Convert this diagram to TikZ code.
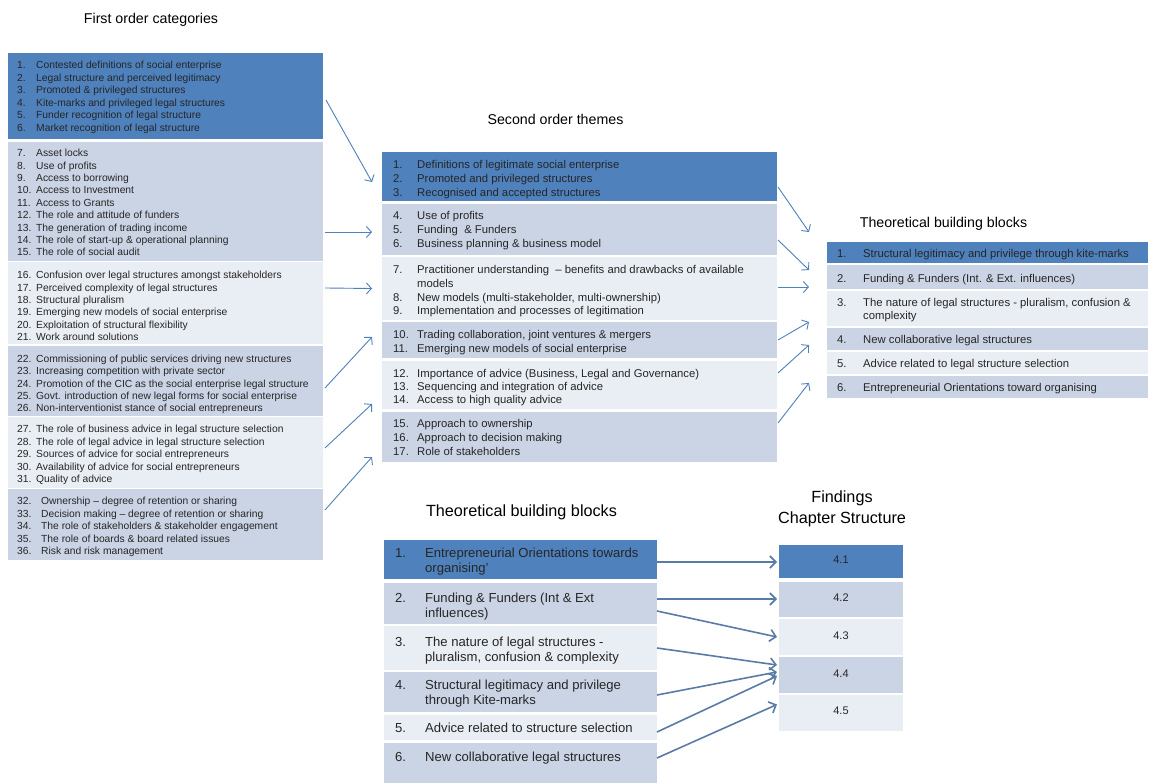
\documentclass[tikz,border=0pt]{standalone}
\usepackage{fontspec}
\setmainfont{Liberation Sans}
\usetikzlibrary{arrows.meta,calc}

\definecolor{dkblue}{HTML}{4F81BD}
\definecolor{midblue}{HTML}{CBD4E5}
\definecolor{ltblue}{HTML}{E9EDF4}
\definecolor{framegray}{HTML}{CFCFCF}
\definecolor{txt}{HTML}{262626}
\definecolor{arrowblue}{HTML}{4F81BD}
\definecolor{arrowsteel}{HTML}{5A7BA8}

\tikzset{
  band/.style={anchor=north west,inner sep=0pt,outer sep=0pt,draw=none},
  groupframe/.style={draw=framegray,line width=0.5pt},
  lbl/.style={inner sep=0pt,anchor=mid west,text=txt,yshift=-2pt},
  ttl/.style={inner sep=0pt,anchor=mid,text=black,yshift=-2.5pt},
  fsmall/.style={font=\fontsize{10.3pt}{12pt}\selectfont},
  fmid/.style={font=\fontsize{11.3pt}{13pt}\selectfont},
  flarge/.style={font=\fontsize{13.1pt}{15pt}\selectfont},
  fchap/.style={font=\fontsize{11pt}{13pt}\selectfont},
  fhead/.style={font=\fontsize{14.2pt}{17pt}\selectfont},
  fbighead/.style={font=\fontsize{16.2pt}{19pt}\selectfont},
  thinarrow/.style={draw=arrowblue,line width=0.9pt,-{Straight Barb[length=5pt,width=11pt]}},
  thickarrow/.style={draw=arrowsteel,line width=1.6pt,-{Straight Barb[length=6pt,width=12pt]}},
}

% filled band: name, colour, x1, y1, x2, y2
\newcommand\bandbox[6]{%
  \node[band,fill=#2,minimum width={(#5-#3)*1pt},minimum height={(#6-#4)*1pt}] (#1) at (#3,#4) {};}

% numbered lines: prefix, style, number x, text x, first y, line step, list
\newcommand\itemlist[7]{%
  \foreach \n/\t [count=\i from 0] in {#7}{%
    \node[lbl,#2] (#1n\i) at (#3,{#5+\i*#6}) {\n};
    \node[lbl,#2] (#1t\i) at (#4,{#5+\i*#6}) {\t};
  }}

\begin{document}
\begin{tikzpicture}[x=1pt,y=-1pt]
\useasboundingbox[fill=white] (0,0) rectangle (1152,783);

% ---------- headings ----------
\node[ttl,fhead] (h1) at (151,18) {First order categories};
\node[ttl,fhead] (h2) at (555.5,119) {Second order themes};
\node[ttl,fhead] (h3) at (943.5,222) {Theoretical building blocks};
\node[ttl,fbighead] (h4) at (521.5,511) {Theoretical building blocks};
\node[ttl,fbighead] (h5) at (842,497) {Findings};
\node[ttl,fbighead] (h6) at (842,518) {Chapter Structure};

% ---------- first order categories ----------
\node[groupframe,band,minimum width=315pt,minimum height=507pt] (fframe) at (8,53) {};
\bandbox{f1}{dkblue}{8}{53}{323}{139}
\bandbox{f2}{midblue}{8}{142}{323}{261}
\bandbox{f3}{ltblue}{8}{262}{323}{344}
\bandbox{f4}{midblue}{8}{346}{323}{416}
\bandbox{f5}{ltblue}{8}{417}{323}{488}
\bandbox{f6}{midblue}{8}{489}{323}{560}

\itemlist{fa}{fsmall}{17}{36}{64}{12.5}{1./Contested definitions of social enterprise,
  2./Legal structure and perceived legitimacy,
  3./Promoted \& privileged structures,
  4./Kite-marks and privileged legal structures,
  5./Funder recognition of legal structure,
  6./Market recognition of legal structure}
\itemlist{fb}{fsmall}{17}{36}{152}{12.4}{7./Asset locks,
  8./Use of profits,
  9./Access to borrowing,
  10./Access to Investment,
  11./Access to Grants,
  12./The role and attitude of funders,
  13./The generation of trading income,
  14./The role of start-up \& operational planning,
  15./The role of social audit}
\itemlist{fc}{fsmall}{17}{36}{274}{12.4}{16./Confusion over legal structures amongst stakeholders,
  17./Perceived complexity of legal structures,
  18./Structural pluralism,
  19./Emerging new models of social enterprise,
  20./Exploitation of structural flexibility,
  21./Work around solutions}
\itemlist{fd}{fsmall}{17}{36}{358}{12.3}{22./Commissioning of public services driving new structures,
  23./Increasing competition with private sector,
  24./Promotion of the CIC as the social enterprise legal structure,
  25./Govt. introduction of new legal forms for social enterprise,
  26./Non-interventionist stance of social entrepreneurs}
\itemlist{fe}{fsmall}{17}{36}{428}{12.5}{27./The role of business advice in legal structure selection,
  28./The role of legal advice in legal structure selection,
  29./Sources of advice for social entrepreneurs,
  30./Availability of advice for social entrepreneurs,
  31./Quality of advice}
\itemlist{ff}{fsmall}{17}{41}{500}{12.5}{32./Ownership -- degree of retention or sharing,
  33./Decision making -- degree of retention or sharing,
  34./The role of stakeholders \& stakeholder engagement,
  35./The role of boards \& board related issues,
  36./Risk and risk management}

% ---------- second order themes ----------
\node[groupframe,band,minimum width=397pt,minimum height=312pt] (sframe) at (381,151) {};
\bandbox{s1}{dkblue}{382}{152}{777}{201}
\bandbox{s2}{midblue}{382}{204}{777}{255}
\bandbox{s3}{ltblue}{382}{257}{777}{320}
\bandbox{s4}{midblue}{382}{322}{777}{358}
\bandbox{s5}{ltblue}{382}{361}{777}{409}
\bandbox{s6}{midblue}{382}{412}{777}{462}

\itemlist{sa}{fmid}{393}{417}{164}{13.7}{1./Definitions of legitimate social enterprise,
  2./Promoted and privileged structures,
  3./Recognised and accepted structures}
\itemlist{sb}{fmid}{393}{417}{215}{13.7}{4./Use of profits,
  5./Funding \ \& Funders,
  6./Business planning \& business model}
\itemlist{sc}{fmid}{393}{417}{269}{13.7}{7./Practitioner understanding \ -- benefits and drawbacks of available,
  /models,
  8./{New models (multi-stakeholder, multi-ownership)},
  9./Implementation and processes of legitimation}
\itemlist{sd}{fmid}{393}{417}{334}{13.9}{10./{Trading collaboration, joint ventures \& mergers},
  11./Emerging new models of social enterprise}
\itemlist{se}{fmid}{393}{417}{372.5}{13.4}{12./{Importance of advice (Business, Legal and Governance)},
  13./Sequencing and integration of advice,
  14./Access to high quality advice}
\itemlist{sf}{fmid}{393}{417}{423}{14}{15./Approach to ownership,
  16./Approach to decision making,
  17./Role of stakeholders}

% ---------- theoretical building blocks (top) ----------
\node[groupframe,band,minimum width=323pt,minimum height=158pt] (tframe) at (826,241) {};
\bandbox{t1}{dkblue}{827}{242}{1148}{263}
\bandbox{t2}{midblue}{827}{265}{1148}{289}
\bandbox{t3}{ltblue}{827}{291}{1148}{326}
\bandbox{t4}{midblue}{827}{328}{1148}{350}
\bandbox{t5}{ltblue}{827}{352}{1148}{374}
\bandbox{t6}{midblue}{827}{376}{1148}{398}

\itemlist{ta}{fmid}{837}{863}{253}{0}{1./Structural legitimacy and privilege through kite-marks}
\itemlist{tb}{fmid}{837}{863}{277.5}{0}{2./Funding \& Funders (Int. \& Ext. influences)}
\itemlist{tc}{fmid}{837}{863}{301.5}{13.5}{3./{The nature of legal structures - pluralism, confusion \&},
  /complexity}
\itemlist{td}{fmid}{837}{863}{339}{0}{4./New collaborative legal structures}
\itemlist{te}{fmid}{837}{863}{363}{0}{5./Advice related to legal structure selection}
\itemlist{tf}{fmid}{837}{863}{387}{0}{6./Entrepreneurial Orientations toward organising}

% ---------- theoretical building blocks (bottom) ----------
\node[groupframe,band,minimum width=274pt,minimum height=245pt] (bframe) at (383,539) {};
\bandbox{b1}{dkblue}{384}{540}{657}{579}
\bandbox{b2}{midblue}{384}{583}{657}{624}
\bandbox{b3}{ltblue}{384}{626}{657}{670}
\bandbox{b4}{midblue}{384}{672}{657}{712}
\bandbox{b5}{ltblue}{384}{715}{657}{740}
\bandbox{b6}{midblue}{384}{743}{657}{783}

\itemlist{ba}{flarge}{395}{425}{553}{15}{1./Entrepreneurial Orientations towards, /organising’}
\itemlist{bb}{flarge}{395}{425}{598}{15}{2./Funding \& Funders (Int \& Ext, /influences)}
\itemlist{bc}{flarge}{395}{425}{642}{15}{3./The nature of legal structures -, /{pluralism, confusion \& complexity}}
\itemlist{bd}{flarge}{395}{425}{685}{15}{4./Structural legitimacy and privilege, /through Kite-marks}
\itemlist{be}{flarge}{395}{425}{728}{0}{5./Advice related to structure selection}
\itemlist{bg}{flarge}{395}{425}{757}{0}{6./New collaborative legal structures}

% ---------- findings chapter structure ----------
\node[groupframe,band,minimum width=126pt,minimum height=190pt] (cframe) at (778,543) {};
\bandbox{c1}{dkblue}{779}{545}{903}{578}
\bandbox{c2}{midblue}{779}{582}{903}{617}
\bandbox{c3}{ltblue}{779}{619}{903}{655}
\bandbox{c4}{midblue}{779}{657}{903}{693}
\bandbox{c5}{ltblue}{779}{695}{903}{731}
\node[ttl,fchap,text=txt] (c1t) at (841,558.5) {4.1};
\node[ttl,fchap,text=txt] (c2t) at (841,596.5) {4.2};
\node[ttl,fchap,text=txt] (c3t) at (841,634.5) {4.3};
\node[ttl,fchap,text=txt] (c4t) at (841,672.5) {4.4};
\node[ttl,fchap,text=txt] (c5t) at (841,709.5) {4.5};

% ---------- first order -> second order ----------
\draw[thinarrow] ($(f1.east)+(3,4)$) -- ($(s1.west)+(-10,5.5)$);
\draw[thinarrow] ($(f2.east)+(2,30.5)$) -- ($(s2.west)+(-10,2.5)$);
\draw[thinarrow] ($(f3.east)+(2,-15)$) -- ($(s3.west)+(-10,0)$);
\draw[thinarrow] ($(f4.east)+(2,7)$) -- ($(s4.west)+(-10,-3)$);
\draw[thinarrow] ($(f5.east)+(2,-4.5)$) -- ($(s5.west)+(-10,19)$);
\draw[thinarrow] ($(f6.east)+(2,-14.5)$) -- ($(s6.west)+(-10,20)$);

% ---------- second order -> building blocks ----------
\draw[thinarrow] ($(s1.east)+(1,10.5)$) -- ($(t1.west)+(-18,-20.5)$);
\draw[thinarrow] ($(s2.east)+(1,10.5)$) -- ($(t2.west)+(-18,-7)$);
\draw[thinarrow] ($(s3.east)+(1,-1.5)$) -- ($(t3.west)+(-18,-21.5)$);
\draw[thinarrow] ($(s4.east)+(1,0)$) -- ($(t4.west)+(-18,-17)$);
\draw[thinarrow] ($(s5.east)+(1,-12)$) -- ($(t5.west)+(-18,-18)$);
\draw[thinarrow] ($(s6.east)+(1,-14)$) -- ($(t6.west)+(-18,-4)$);

% ---------- building blocks -> chapters ----------
\draw[thickarrow] ($(b1.east)+(0,2.5)$) -- ($(c1.west)+(-2,0.5)$);
\draw[thickarrow] ($(b2.east)+(0,-4.5)$) -- ($(c2.west)+(-2,-0.5)$);
\draw[thickarrow] ($(b2.east)+(0,7.5)$) -- ($(c3.west)+(-2,0)$);
\draw[thickarrow] ($(b3.east)+(0,0)$) -- ($(c4.west)+(-2,-10)$);
\draw[thickarrow] ($(b4.east)+(0,3)$) -- ($(c4.west)+(-2,-3)$);
\draw[thickarrow] ($(b5.east)+(0,4.5)$) -- ($(c4.west)+(-2,1)$);
\draw[thickarrow] ($(b6.east)+(0,-5)$) -- ($(c5.west)+(-2,-8.5)$);
\end{tikzpicture}
\end{document}
